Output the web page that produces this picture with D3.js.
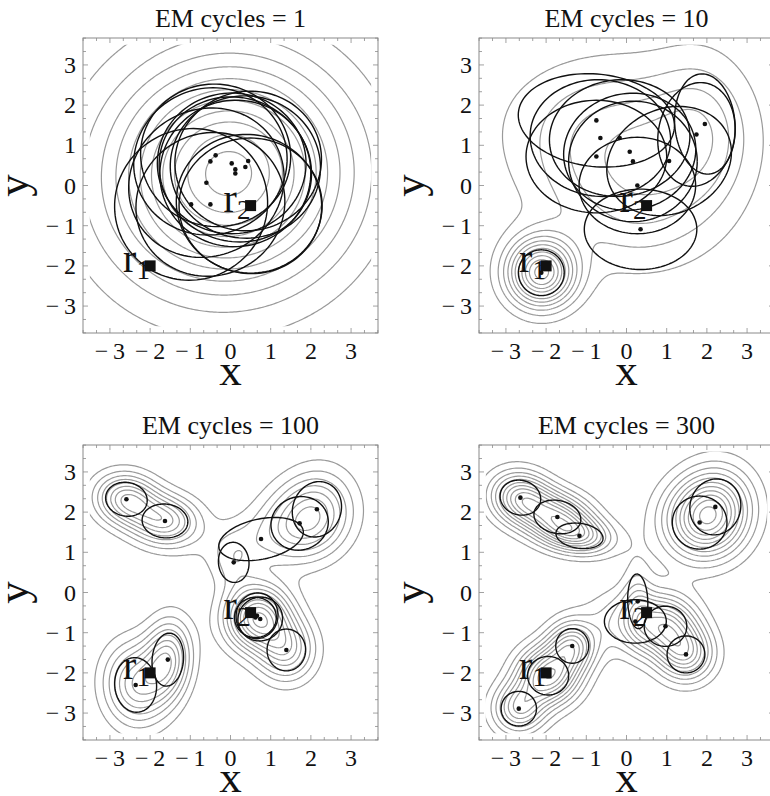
<!DOCTYPE html>
<html>
<head>
<meta charset="utf-8">
<script src="https://cdn.jsdelivr.net/npm/d3@7"></script>
<style>
  body { margin: 0; background: #fff; }
  svg { display: block; }
  text { font-family: "Liberation Serif", "Times New Roman", serif; fill: #111; }
</style>
</head>
<body>
<svg id="chart" width="770" height="796"></svg>
<script>
// Mixture components per EM stage: [meanX, meanY, sigmaMajor, sigmaMinor, angleDeg, weight]
const em1 = [
  [-0.50,  0.60, 1.92, 1.82,  20, 1],
  [-0.37,  0.75, 1.87, 1.77, -10, 1],
  [-0.60,  0.07, 1.97, 1.82,  30, 1],
  [ 0.03,  0.55, 1.85, 1.75,   0, 1.2],
  [ 0.12,  0.40, 1.92, 1.78, -25, 1.2],
  [ 0.12,  0.30, 1.88, 1.82,  10, 1.2],
  [ 0.37,  0.46, 1.87, 1.77,  -5, 1.2],
  [ 0.44,  0.61, 1.83, 1.73,  15, 1.2],
  [-0.98, -0.47, 1.92, 1.87,  35, 0.8],
  [-0.50, -0.47, 1.87, 1.77,  25, 0.8],
  [ 0.50, -0.50, 1.78, 1.68,   0, 0.4],
  [ 0.46, -0.46, 1.82, 1.72, -20, 0.4]
];
const em10 = [
  [-0.75,  1.62, 1.95, 1.15,  -6, 0.10],
  [-0.65,  1.18, 1.75, 1.45,  -5, 0.075],
  [-0.17,  1.18, 1.75, 1.45,   5, 0.075],
  [-0.75,  0.72, 1.75, 1.40,   0, 0.075],
  [ 0.08,  0.84, 1.65, 1.45,  10, 0.075],
  [ 0.16,  0.60, 1.60, 1.50,   0, 0.075],
  [ 1.06,  0.61, 1.60, 1.30,  25, 0.08],
  [ 1.74,  1.27, 1.30, 0.95,  80, 0.075],
  [ 1.95,  1.53, 1.25, 0.75,  95, 0.075],
  [ 0.27,  0.00, 1.45, 1.20,   0, 0.075],
  [ 0.35, -1.09, 1.40, 1.00,   0, 0.08],
  [-2.12, -2.17, 0.57, 0.57,   0, 0.22]
];
const em100 = [
  [-2.59,  2.32, 0.52, 0.42, -10, 0.10],
  [-1.63,  1.78, 0.57, 0.42,  -5, 0.10],
  [ 2.15,  2.07, 0.70, 0.60,  70, 0.10],
  [ 1.72,  1.72, 0.72, 0.66,  20, 0.10],
  [ 0.76,  1.33, 1.07, 0.50,  12, 0.05],
  [ 0.08,  0.75, 0.50, 0.38,  95, 0.02],
  [ 0.66, -0.58, 0.57, 0.52,  80, 0.065],
  [ 0.74, -0.66, 0.56, 0.54,  30, 0.065],
  [ 0.62, -0.62, 0.52, 0.50,   0, 0.055],
  [ 1.39, -1.43, 0.52, 0.48,  90, 0.09],
  [-1.56, -1.67, 0.66, 0.39,  85, 0.11],
  [-2.36, -2.30, 0.68, 0.52,  95, 0.14]
];
const em300 = [
  [-2.64,  2.36, 0.51, 0.43, -15, 0.07],
  [-1.72,  1.88, 0.59, 0.41, -12, 0.08],
  [-1.17,  1.41, 0.59, 0.31,  -8, 0.045],
  [ 2.21,  2.13, 0.70, 0.63,  75, 0.11],
  [ 1.82,  1.74, 0.68, 0.66,   0, 0.11],
  [ 0.28, -0.22, 0.68, 0.25,  92, 0.015],
  [ 0.22, -0.72, 0.77, 0.54,   0, 0.06],
  [ 0.97, -0.84, 0.53, 0.50,   0, 0.07],
  [ 1.48, -1.54, 0.47, 0.46,   0, 0.06],
  [-1.35, -1.33, 0.43, 0.41,  90, 0.05],
  [-1.95, -2.07, 0.51, 0.48,   0, 0.10],
  [-2.68, -2.89, 0.44, 0.43,   0, 0.05]
];
const cycles = [1, 10, 100, 300];
const tickValues = [-3, -2, -1, 0, 1, 2, 3];
const markerNames = ["1", "2"];
const markerX = [-2, 0.5];
const markerY = [-2, -0.5];
const contourCount = 11;
const plotRegion = [-3.5, 3.5];   // area over which the density is contoured

const models = [em1, em10, em100, em300];

// Panel geometry
const lo = -3.67, hi = 3.67, size = 295;
const layout = [[83, 38], [479, 38], [83, 445], [479, 445]];

const svg = d3.select("#chart");
const defs = svg.append("defs");

function density(comps, px, py) {
  let s = 0;
  for (const [mx, my, sa, sb, ang, w] of comps) {
    const a = ang * Math.PI / 180, c = Math.cos(a), sn = Math.sin(a);
    const dx = px - mx, dy = py - my;
    const u = c * dx + sn * dy, v = -sn * dx + c * dy;
    s += w / (2 * Math.PI * sa * sb) * Math.exp(-0.5 * (u * u / (sa * sa) + v * v / (sb * sb)));
  }
  return s;
}

function ellipsePoints(mx, my, sa, sb, ang) {
  const a = ang * Math.PI / 180, c = Math.cos(a), sn = Math.sin(a);
  return d3.range(0, 121).map(k => {
    const t = k / 120 * 2 * Math.PI;
    const u = sa * Math.cos(t), v = sb * Math.sin(t);
    return [mx + c * u - sn * v, my + sn * u + c * v];
  });
}

const minus = v => v < 0 ? "\u2212\u2009" + Math.abs(v) : String(v);

models.forEach((comps, p) => {
  const [left, top] = layout[p];
  const x = d3.scaleLinear().domain([lo, hi]).range([left, left + size]);
  const y = d3.scaleLinear().domain([lo, hi]).range([top + size, top]);
  const g = svg.append("g");

  defs.append("clipPath").attr("id", "clip" + p)
    .append("rect")
    .attr("x", x(plotRegion[0])).attr("y", y(plotRegion[1]))
    .attr("width", x(plotRegion[1]) - x(plotRegion[0]))
    .attr("height", y(plotRegion[0]) - y(plotRegion[1]));

  // density grid and contour levels
  const N = 240, gLo = -5.5, gHi = 5.5, step = (gHi - gLo) / N;
  const vals = new Float64Array(N * N);
  for (let j = 0; j < N; j++)
    for (let i = 0; i < N; i++)
      vals[i + j * N] = density(comps, gLo + i * step, gLo + j * step);
  const vmax = d3.max(vals);
  const thresholds = d3.range(1, contourCount + 1).map(k => k * vmax / (contourCount + 0.5));
  const contours = d3.contours().size([N, N]).thresholds(thresholds)(vals);
  const proj = d3.geoTransform({
    point(cx, cy) { this.stream.point(x(gLo + (cx - 0.5) * step), y(gLo + (cy - 0.5) * step)); }
  });
  const path = d3.geoPath(proj);

  g.append("g").attr("clip-path", `url(#clip${p})`)
    .selectAll("path").data(contours).join("path")
    .attr("d", path)
    .attr("fill", "none")
    .attr("stroke", "#9a9a9a")
    .attr("stroke-width", 1.2);

  // component ellipses
  const line = d3.line().x(d => x(d[0])).y(d => y(d[1]));
  g.selectAll("path.ell").data(comps).join("path")
    .attr("class", "ell")
    .attr("d", d => line(ellipsePoints(d[0], d[1], d[2], d[3], d[4])))
    .attr("fill", "none")
    .attr("stroke", "#111")
    .attr("stroke-width", 1.4);

  // component means
  g.selectAll("circle.mean").data(comps).join("circle")
    .attr("class", "mean")
    .attr("cx", d => x(d[0])).attr("cy", d => y(d[1]))
    .attr("r", 2.3).attr("fill", "#111");

  // frame with ticks
  g.append("rect").attr("x", left).attr("y", top).attr("width", size).attr("height", size)
    .attr("fill", "none").attr("stroke", "#8a8a8a").attr("stroke-width", 1);
  const minorTicks = d3.range(-11, 12).map(k => k / 3).filter(v => v > lo && v < hi);
  const tk = g.append("g").attr("stroke", "#8a8a8a").attr("stroke-width", 0.8);
  minorTicks.forEach(v => {
    const major = Math.abs(v - Math.round(v)) < 1e-6;
    const len = major ? 5 : 3;
    tk.append("line").attr("x1", x(v)).attr("x2", x(v)).attr("y1", top + size).attr("y2", top + size - len);
    tk.append("line").attr("x1", x(v)).attr("x2", x(v)).attr("y1", top).attr("y2", top + len);
    tk.append("line").attr("y1", y(v)).attr("y2", y(v)).attr("x1", left).attr("x2", left + len);
    tk.append("line").attr("y1", y(v)).attr("y2", y(v)).attr("x1", left + size).attr("x2", left + size - len);
  });

  // tick labels
  g.selectAll("text.xt").data(tickValues).join("text")
    .attr("class", "xt")
    .attr("x", d => x(d)).attr("y", top + size + 26)
    .attr("text-anchor", "middle").attr("font-size", 24)
    .text(minus);
  g.selectAll("text.yt").data(tickValues).join("text")
    .attr("class", "yt")
    .attr("x", left - 7).attr("y", d => y(d))
    .attr("text-anchor", "end").attr("dominant-baseline", "central").attr("font-size", 24)
    .text(minus);

  // titles and axis names
  g.append("text").attr("x", x(0)).attr("y", top - 11)
    .attr("text-anchor", "middle").attr("font-size", 26)
    .text("EM cycles = " + cycles[p]);
  g.append("text").attr("x", x(0)).attr("y", top + size + 52)
    .attr("text-anchor", "middle").attr("font-size", 45).text("x");
  g.append("text")
    .attr("transform", `translate(${left - 55},${y(0)}) rotate(-90)`)
    .attr("text-anchor", "middle").attr("font-size", 45).text("y");

  // marked points r1, r2
  markerNames.forEach((name, k) => {
    const cx = x(markerX[k]), cy = y(markerY[k]);
    g.append("rect").attr("x", cx - 5.5).attr("y", cy - 5.5).attr("width", 11).attr("height", 11).attr("fill", "#111");
    const t = g.append("text").attr("x", cx - 27).attr("y", cy + 6);
    t.append("tspan").attr("font-size", 40).text("r");
    t.append("tspan").attr("font-size", 27).attr("dy", 7).text(name);
  });
});
</script>
</body>
</html>
